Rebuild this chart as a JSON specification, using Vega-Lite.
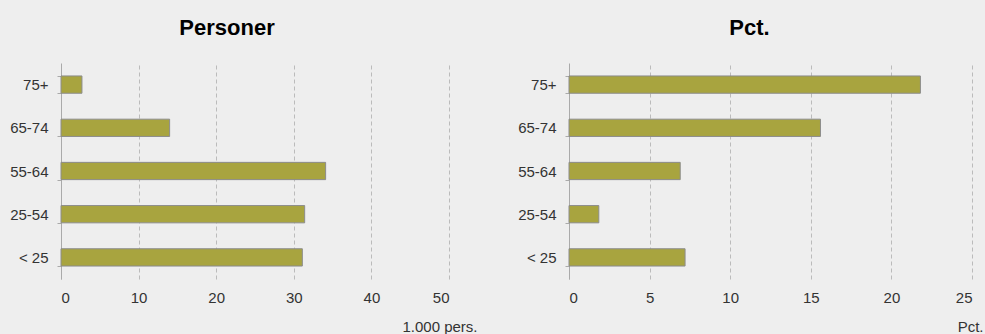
{
  "$schema": "https://vega.github.io/schema/vega-lite/v6.json",
  "autosize": {"type": "pad"},
  "padding": {"left": 9, "top": 17, "right": 3, "bottom": 0},
  "background": "#eeeeee",
  "spacing": 120,
  "bounds": "flush",
  "config": {
    "view": {"stroke": null},
    "font": "Liberation Sans",
    "axis": {"labelFont": "Liberation Sans", "labelFontSize": 15, "labelColor": "#333333", "titleFont": "Liberation Sans", "titleFontWeight": "normal", "titleFontSize": 15, "titleColor": "#333333"},
    "title": {"font": "Liberation Sans", "fontSize": 22, "fontWeight": "bold", "color": "#000000"}
  },
  "datasets": {
    "personer": [
      {"alder": "75+", "v": 2.7},
      {"alder": "65-74", "v": 14.0},
      {"alder": "55-64", "v": 34.1},
      {"alder": "25-54", "v": 31.4},
      {"alder": "< 25", "v": 31.1}
    ],
    "pct": [
      {"alder": "75+", "v": 21.8},
      {"alder": "65-74", "v": 15.6},
      {"alder": "55-64", "v": 6.9},
      {"alder": "25-54", "v": 1.85},
      {"alder": "< 25", "v": 7.2}
    ]
  },
  "hconcat": [
    {
      "width": 388,
      "height": 216,
      "title": {"text": "Personer", "dx": -28, "offset": 16},
      "data": {"name": "personer"},
      "mark": {"type": "bar", "color": "#a8a43f", "stroke": "#8c8c8c", "strokeWidth": 1},
      "encoding": {
        "y": {"field": "alder", "type": "nominal", "sort": null,
              "scale": {"paddingInner": 0.6, "paddingOuter": 0.3},
              "axis": {"title": null, "domainColor": "#aaaaaa", "tickColor": "#aaaaaa", "tickSize": 4, "tickBand": "extent", "labelPadding": 9, "grid": false}},
        "x": {"field": "v", "type": "quantitative",
              "scale": {"domain": [0, 50], "nice": false},
              "axis": {"values": [0, 10, 20, 30, 40, 50], "title": "1.000 pers.", "titleX": 416, "titleY": 40, "titleAlign": "right", "titleBaseline": "top", "titleAnchor": null,
                       "domain": false, "ticks": false, "labelPadding": 11, "grid": true, "gridColor": "#bbbbbb", "gridDash": [4, 3], "gridWidth": 1}}
      }
    },
    {
      "width": 403,
      "height": 216,
      "title": {"text": "Pct.", "dx": -21, "offset": 16},
      "data": {"name": "pct"},
      "mark": {"type": "bar", "color": "#a8a43f", "stroke": "#8c8c8c", "strokeWidth": 1},
      "encoding": {
        "y": {"field": "alder", "type": "nominal", "sort": null,
              "scale": {"paddingInner": 0.6, "paddingOuter": 0.3},
              "axis": {"title": null, "domainColor": "#aaaaaa", "tickColor": "#aaaaaa", "tickSize": 4, "tickBand": "extent", "labelPadding": 9, "grid": false}},
        "x": {"field": "v", "type": "quantitative",
              "scale": {"domain": [0, 25], "nice": false},
              "axis": {"values": [0, 5, 10, 15, 20, 25], "title": "Pct.", "titleX": 414, "titleY": 40, "titleAlign": "right", "titleBaseline": "top", "titleAnchor": null,
                       "domain": false, "ticks": false, "labelPadding": 11, "grid": true, "gridColor": "#bbbbbb", "gridDash": [4, 3], "gridWidth": 1}}
      }
    }
  ]
}
